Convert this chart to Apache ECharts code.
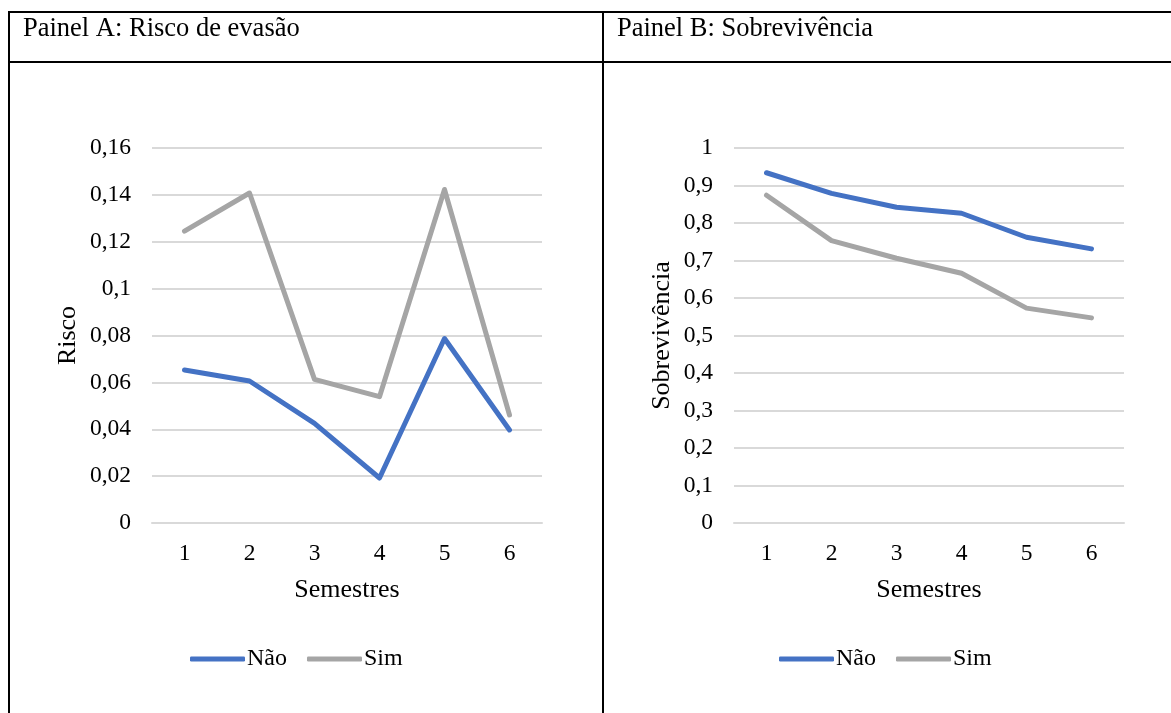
<!DOCTYPE html>
<html>
<head>
<meta charset="utf-8">
<script src="https://cdn.jsdelivr.net/npm/echarts@6/dist/echarts.min.js"></script>
<style>
  html, body { margin: 0; padding: 0; background: #fff; }
  #chart { width: 1171px; height: 713px; }
</style>
</head>
<body>
<div id="chart"></div>
<script>
var semestres = ['1', '2', '3', '4', '5', '6'];

// Painel A: risco de evasão
var riscoNao = [0.0653, 0.0606, 0.0425, 0.0192, 0.0787, 0.0397];
var riscoSim = [0.1245, 0.1408, 0.0613, 0.0539, 0.1423, 0.0461];

// Painel B: sobrevivência
var sobrevNao = [0.934, 0.879, 0.842, 0.826, 0.762, 0.731];
var sobrevSim = [0.874, 0.753, 0.706, 0.666, 0.573, 0.547];

var FONT = 'Liberation Serif';
var azul = '#4472C4';
var cinza = '#A5A5A5';

function virgula(v) {
  return String(+v.toFixed(2)).replace('.', ',');
}

function eixoX(idx) {
  return {
    type: 'category',
    gridIndex: idx,
    data: semestres,
    boundaryGap: true,
    name: 'Semestres',
    nameLocation: 'middle',
    nameGap: 54,
    nameTextStyle: { fontFamily: FONT, fontSize: 26, color: '#000' },
    axisLine: { lineStyle: { color: '#D9D9D9', width: 2 } },
    axisTick: { show: false },
    axisLabel: { fontFamily: FONT, fontSize: 23.5, color: '#000', margin: 19 }
  };
}

function eixoY(idx, nome, max, step, gap) {
  return {
    type: 'value',
    gridIndex: idx,
    min: 0,
    max: max,
    interval: step,
    name: nome,
    nameLocation: 'middle',
    nameGap: gap,
    nameRotate: 90,
    nameTextStyle: { fontFamily: FONT, fontSize: 26, color: '#000' },
    axisLine: { show: false },
    axisTick: { show: false },
    splitLine: { lineStyle: { color: '#D9D9D9', width: 2 } },
    axisLabel: {
      fontFamily: FONT, fontSize: 23.5, color: '#000', margin: 21,
      formatter: virgula
    }
  };
}

function linha(nome, cor, dados, idx) {
  return {
    name: nome,
    type: 'line',
    xAxisIndex: idx,
    yAxisIndex: idx,
    data: dados,
    showSymbol: false,
    symbol: 'none',
    lineStyle: { color: cor, width: 5, cap: 'round', join: 'round' },
    itemStyle: { color: cor },
    animation: false
  };
}

function legenda(left) {
  return {
    left: left,
    top: 642,
    data: ['Não', 'Sim'],
    icon: 'roundRect',
    itemWidth: 55,
    itemHeight: 5,
    itemGap: 20,
    textStyle: { fontFamily: FONT, fontSize: 24, color: '#000', padding: [0, 0, 0, -3] }
  };
}

var chart = echarts.init(document.getElementById('chart'));

var option = {
  backgroundColor: '#fff',
  animation: false,
  title: [
    {
      text: 'Painel A: Risco de evasão',
      left: 18, top: 11,
      textStyle: { fontFamily: FONT, fontSize: 26.5, fontWeight: 'normal', color: '#000' }
    },
    {
      text: 'Painel B: Sobrevivência',
      left: 612, top: 11,
      textStyle: { fontFamily: FONT, fontSize: 26.5, fontWeight: 'normal', color: '#000' }
    }
  ],
  graphic: [
    { type: 'line', shape: { x1: 8, y1: 12, x2: 1171, y2: 12 }, style: { stroke: '#000', lineWidth: 2 } },
    { type: 'line', shape: { x1: 8, y1: 62, x2: 1171, y2: 62 }, style: { stroke: '#000', lineWidth: 2 } },
    { type: 'line', shape: { x1: 9, y1: 11, x2: 9, y2: 713 }, style: { stroke: '#000', lineWidth: 2 } },
    { type: 'line', shape: { x1: 603, y1: 11, x2: 603, y2: 713 }, style: { stroke: '#000', lineWidth: 2 } }
  ],
  legend: [legenda(185), legenda(774)],
  grid: [
    { left: 152, right: 629, top: 148, bottom: 190 },
    { left: 734, right: 47, top: 148, bottom: 190 }
  ],
  xAxis: [eixoX(0), eixoX(1)],
  yAxis: [
    eixoY(0, 'Risco', 0.16, 0.02, 71),
    eixoY(1, 'Sobrevivência', 1, 0.1, 59)
  ],
  series: [
    linha('Não', azul, riscoNao, 0),
    linha('Sim', cinza, riscoSim, 0),
    linha('Não', azul, sobrevNao, 1),
    linha('Sim', cinza, sobrevSim, 1)
  ]
};

chart.setOption(option);
</script>
</body>
</html>
